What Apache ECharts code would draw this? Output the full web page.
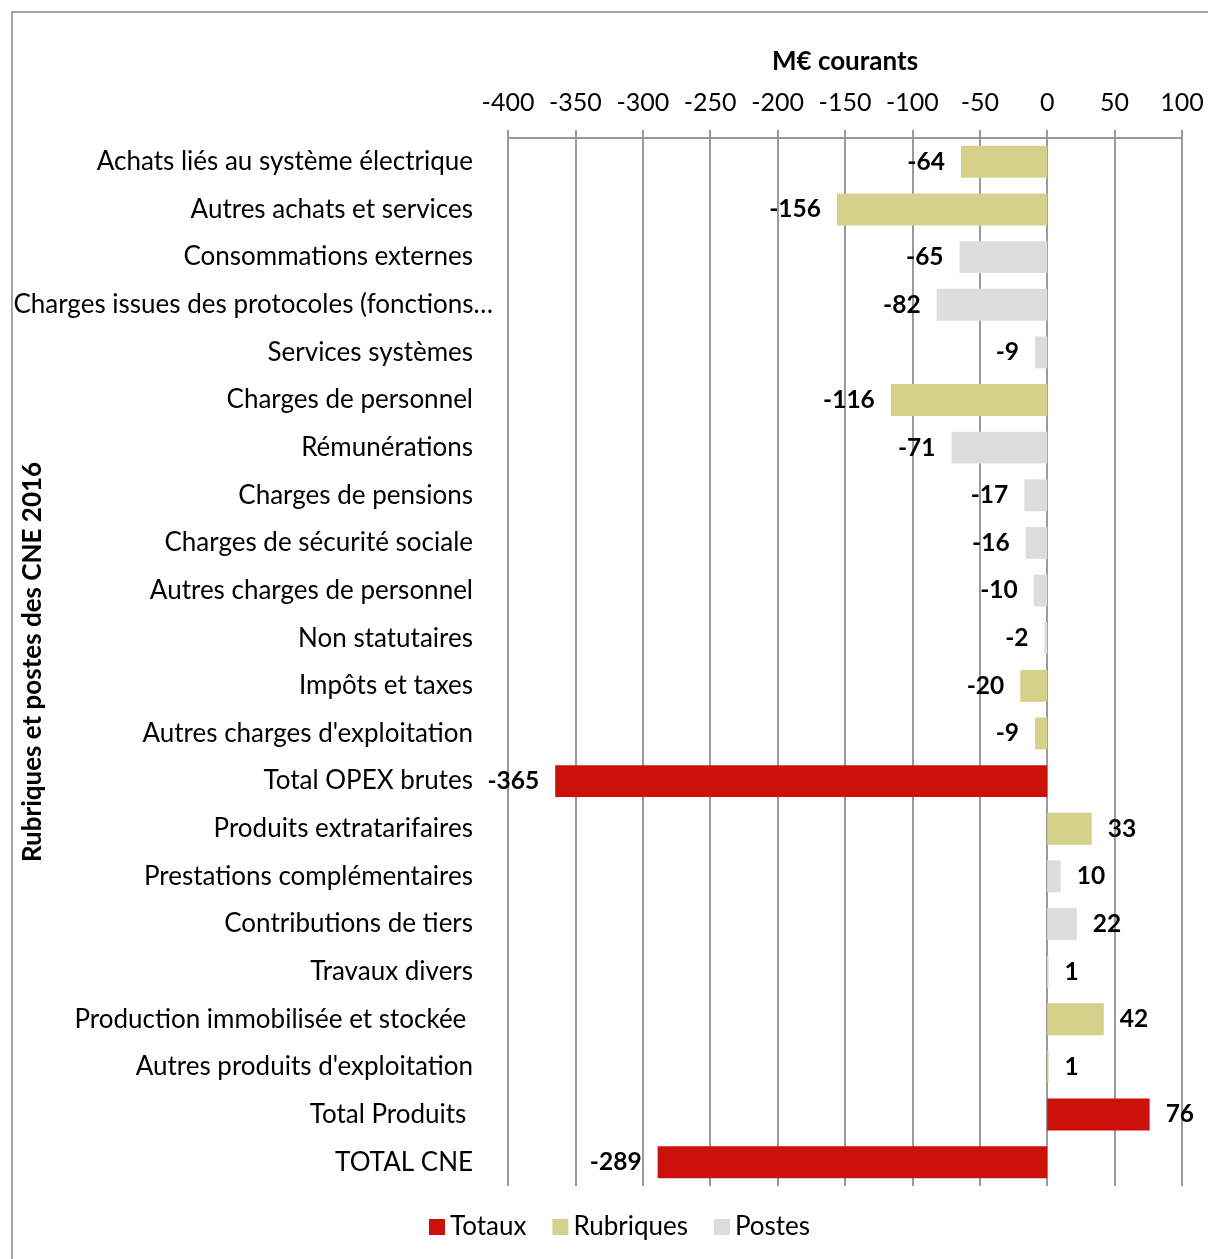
<!DOCTYPE html>
<html><head><meta charset="utf-8">
<script src="https://cdn.jsdelivr.net/npm/echarts@6/dist/echarts.min.js"></script>
<style>html,body{margin:0;padding:0;background:#fff}#c{width:1208px;height:1259px}</style>
</head><body><div id="c"></div>
<script>
const categories = [
  "Achats liés au système électrique","Autres achats et services","Consommations externes",
  "Charges issues des protocoles (fonctions…","Services systèmes","Charges de personnel",
  "Rémunérations","Charges de pensions","Charges de sécurité sociale","Autres charges de personnel",
  "Non statutaires","Impôts et taxes","Autres charges d'exploitation","Total OPEX brutes",
  "Produits extratarifaires","Prestations complémentaires","Contributions de tiers","Travaux divers",
  "Production immobilisée et stockée ","Autres produits d'exploitation","Total Produits ","TOTAL CNE"
];
const values = [-64,-156,-65,-82,-9,-116,-71,-17,-16,-10,-2,-20,-9,-365,33,10,22,1,42,1,76,-289];
const types  = ["R","R","P","P","P","R","P","P","P","P","P","R","R","T","R","P","P","P","R","R","T","T"];
const seriesNames = {T:"Totaux", R:"Rubriques", P:"Postes"};
const colors = {T:"#CC100A", R:"#D5D08A", P:"#DDDDDD"};
const xTicks = {min:-400, max:100, interval:50};
const FONT = "Lato";

function seriesFor(t){
  return {
    name: seriesNames[t], type:'bar', stack:'s', barWidth:'67%',
    itemStyle:{color:colors[t]},
    data: values.map((v,i)=> types[i]===t ? {value:v, label:{show:true, position: v<0?'left':'right'}} : '-'),
    label:{show:false, distance:16, color:'#000', fontFamily:FONT, fontWeight:'bold', fontSize:24.5,
      formatter: p => String(p.value)}
  };
}

const chart = echarts.init(document.getElementById('c'));
chart.setOption({
  animation:false,
  backgroundColor:'#fff',
  textStyle:{fontFamily:FONT},
  graphic:[{type:'rect', shape:{x:12,y:12,width:1220,height:1280}, style:{fill:'none', stroke:'#888', lineWidth:1.5}, z:-1}],
  legend:{
    bottom:14, left:424, itemWidth:16, itemHeight:16, itemGap:26,
    icon:'rect', textStyle:{fontFamily:FONT, fontSize:26, color:'#000'},
    data:['Totaux','Rubriques','Postes']
  },
  grid:{left:508, right:26, top:138, bottom:73, containLabel:false, outerBoundsMode:'none'},
  xAxis:{
    type:'value', position:'top', min:xTicks.min, max:xTicks.max, interval:xTicks.interval,
    name:'M€ courants', nameLocation:'middle', nameGap:63, nameMoveOverlap:false,
    nameTextStyle:{fontFamily:FONT, fontWeight:'bold', fontSize:26, color:'#000'},
    axisLine:{show:true, lineStyle:{color:'#999', width:2}},
    axisTick:{show:true, length:8, lineStyle:{color:'#999', width:2}},
    axisLabel:{fontFamily:FONT, fontSize:25, color:'#000', margin:23},
    splitLine:{show:true, lineStyle:{color:'#9a9a9a', width:2}}
  },
  yAxis:{
    type:'category', data:categories, inverse:true,
    name:'Rubriques et postes des CNE 2016', nameLocation:'middle', nameGap:462, nameMoveOverlap:false,
    nameTextStyle:{fontFamily:FONT, fontWeight:'bold', fontSize:26, color:'#000'},
    axisLine:{show:false}, axisTick:{show:false},
    axisLabel:{margin:15, fontFamily:FONT, fontSize:26, color:'#000',
      formatter: v => v.endsWith('…') ? '{t|'+v+'}' : '{n|'+v+'}',
      rich:{
        n:{fontFamily:FONT, fontSize:26, color:'#000', padding:[0,20,0,0]},
        t:{fontFamily:FONT, fontSize:26, color:'#000'}
      }}
  },
  series:['T','R','P'].map(seriesFor)
});
</script></body></html>
